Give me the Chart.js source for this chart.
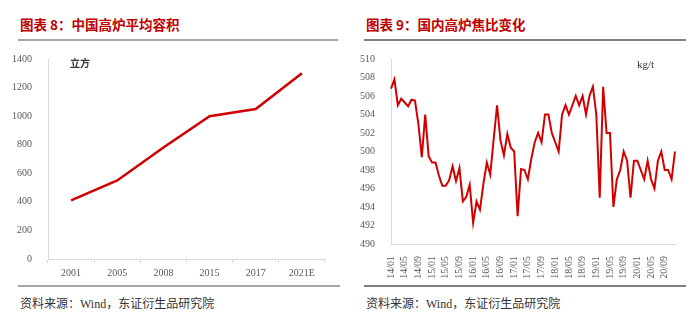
<!DOCTYPE html>
<html>
<head>
<meta charset="utf-8">
<script src="https://cdn.jsdelivr.net/npm/chart.js@4/dist/chart.umd.min.js"></script>
<style>
  html, body { margin: 0; padding: 0; background: #fff; }
  body { width: 700px; height: 324px; position: relative; overflow: hidden;
         font-family: "Liberation Serif", "Noto Sans CJK SC", serif; }
  .title { position: absolute; top: 14px; color: #c00000; font-weight: bold;
           font-family: "Noto Sans CJK SC", sans-serif; font-size: 13.5px; line-height: 20px; white-space: nowrap; }
  .rule { position: absolute; height: 2px; }
  .src { position: absolute; top: 295px; font-size: 12px; color: #333; white-space: nowrap;
         font-family: "Liberation Serif", "Noto Sans CJK SC", serif; line-height: 16px; }
  .src .cjk { font-family: "Noto Sans CJK SC", sans-serif; font-size: 12px; }
  .unit { position: absolute; color: #333; white-space: nowrap; }
  .box { position: absolute; }
</style>
</head>
<body>
<div class="title" style="left:20px;">图表 8：中国高炉平均容积</div>
<div class="title" style="left:366px;">图表 9：国内高炉焦比变化</div>
<div class="rule" style="left:18px; width:320px; top:39px; background:#a6a6a6;"></div>
<div class="rule" style="left:364px; width:322px; top:39px; background:#808080;"></div>

<div class="box" style="left:0; top:45px; width:340px; height:240px;"><canvas id="volume"></canvas></div>
<div class="box" style="left:350px; top:45px; width:350px; height:240px;"><canvas id="coke"></canvas></div>

<div class="unit" style="left:70px; top:55px; font-family:'Noto Sans CJK SC',sans-serif; font-size:10px; font-weight:bold;">立方</div>
<div class="unit" style="left:637px; top:58px; font-family:'Liberation Serif',serif; font-size:11px;">kg/t</div>

<div class="rule" style="left:18px; width:322px; top:285px; background:#a6a6a6;"></div>
<div class="rule" style="left:364px; width:322px; top:285px; background:#808080;"></div>
<div class="src" style="left:20px;"><span class="cjk">资料来源：</span>Wind<span class="cjk">，东证衍生品研究院</span></div>
<div class="src" style="left:366px;"><span class="cjk">资料来源：</span>Wind<span class="cjk">，东证衍生品研究院</span></div>

<script>
// Average blast-furnace volume (cubic metres)
const volumeYears = ["2001", "2005", "2008", "2015", "2017", "2021E"];
const volumeValues = [410, 550, 780, 1000, 1050, 1300];

// Monthly blast-furnace coke ratio (kg/t), 2014/01 – 2020/12
const cokeYears = ["14", "15", "16", "17", "18", "19", "20"];
const cokeMonths = ["01", "02", "03", "04", "05", "06", "07", "08", "09", "10", "11", "12"];
const cokeValues = [
  506.8, 507.8, 505.0, 505.7, 505.3, 504.9, 505.6, 505.5, 503.0, 499.4, 504.0, 499.5,
  498.8, 498.8, 497.4, 496.3, 496.3, 496.9, 498.4, 496.8, 498.2, 494.6, 495.1, 496.4,
  492.3, 494.6, 493.7, 496.5, 498.8, 497.5, 501.3, 505.0, 501.2, 499.6, 501.9, 500.4,
  500.0, 493.0, 498.1, 498.0, 497.0, 499.2, 501.0, 502.0, 501.0, 504.0, 504.0, 502.0,
  501.0, 500.0, 504.0, 505.0, 504.0, 505.0, 506.0, 505.0, 506.0, 504.0, 506.0, 507.0,
  504.0, 495.0, 507.0, 502.0, 502.0, 494.0, 497.0, 498.0, 500.0, 499.0, 495.0, 499.0,
  499.0, 498.0, 497.0, 499.0, 497.0, 496.0, 499.0, 500.0, 498.0, 498.0, 497.0, 500.0
];
const cokeLabels = [];
cokeYears.forEach(y => cokeMonths.forEach(m => cokeLabels.push(y + "/" + m)));

const axisColor = "#d9d9d9";
const tickColor = "#595959";
const tickFont = { family: "'Liberation Serif', serif", size: 10 };

Chart.defaults.animation = false;
Chart.defaults.responsive = true;
Chart.defaults.maintainAspectRatio = false;

new Chart(document.getElementById("volume"), {
  type: "line",
  data: {
    labels: volumeYears,
    datasets: [{
      data: volumeValues,
      borderColor: "#d00000",
      borderWidth: 2.5,
      pointRadius: 0,
      tension: 0,
      fill: false
    }]
  },
  options: {
    layout: { padding: { top: 14, right: 15, left: 0, bottom: 0 } },
    plugins: { legend: { display: false }, tooltip: { enabled: false } },
    scales: {
      x: {
        offset: true,
        grid: { display: true, drawOnChartArea: false, offset: true, color: axisColor, tickLength: 4 },
        border: { color: axisColor, width: 1 },
        ticks: { color: tickColor, font: tickFont, padding: 4, maxRotation: 0 },
        afterFit: s => { s.height = 26; }
      },
      y: {
        min: 0, max: 1400,
        grid: { display: false },
        border: { display: true, color: axisColor, width: 1 },
        ticks: { stepSize: 200, color: tickColor, font: tickFont, padding: 8,
                 callback: v => String(v) },
        afterFit: s => { s.width = 48; }
      }
    }
  }
});

new Chart(document.getElementById("coke"), {
  type: "line",
  data: {
    labels: cokeLabels,
    datasets: [{
      data: cokeValues,
      borderColor: "#d00000",
      borderWidth: 2,
      pointRadius: 0,
      tension: 0,
      fill: false
    }]
  },
  options: {
    layout: { padding: { top: 9, right: 25, left: 0, bottom: 0 } },
    plugins: { legend: { display: false }, tooltip: { enabled: false } },
    scales: {
      x: {
        offset: false,
        grid: { display: false },
        border: { color: axisColor, width: 1 },
        ticks: {
          color: tickColor, font: tickFont, padding: 4,
          autoSkip: false, minRotation: 90, maxRotation: 90,
          callback: function (v, i) { return i % 4 === 0 ? cokeLabels[i] : null; }
        },
        afterFit: s => { s.height = 41; }
      },
      y: {
        min: 490, max: 510,
        grid: { display: false },
        border: { display: true, color: axisColor, width: 1 },
        ticks: { stepSize: 2, color: tickColor, font: tickFont, padding: 8 },
        afterFit: s => { s.width = 41; }
      }
    }
  }
});
</script>
</body>
</html>
